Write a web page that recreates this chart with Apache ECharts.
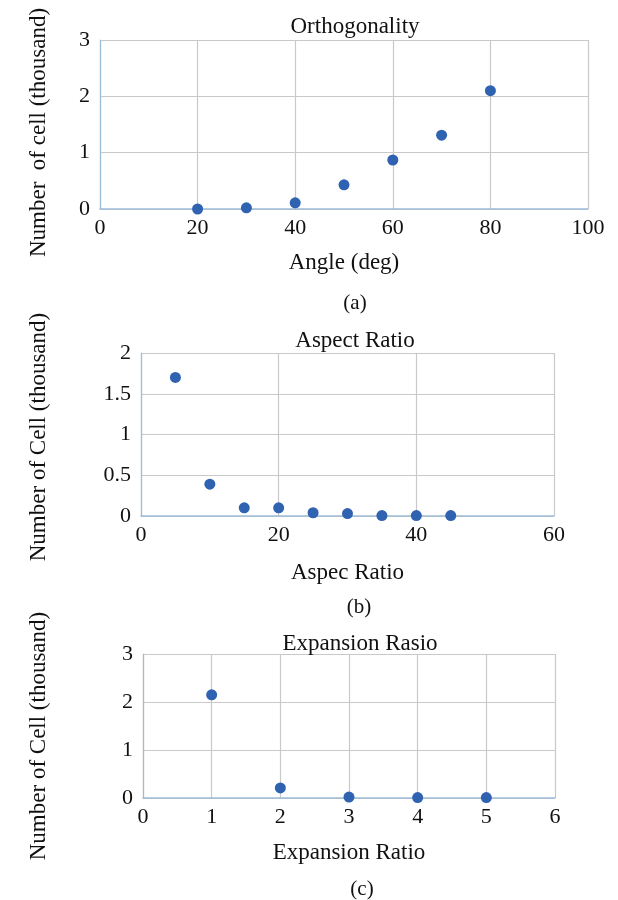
<!DOCTYPE html>
<html>
<head>
<meta charset="utf-8">
<script src="https://cdn.jsdelivr.net/npm/echarts@6/dist/echarts.min.js"></script>
<style>
  html, body { margin: 0; padding: 0; background: #fff; }
  #main { width: 618px; height: 900px; }
</style>
</head>
<body>
<div id="main"></div>
<script>
var myChart = echarts.init(document.getElementById('main'));

// (a) Orthogonality
var angleX = [20, 30, 40, 50, 60, 70, 80];
var angleY = [0.0, 0.02, 0.11, 0.43, 0.87, 1.31, 2.1];
// (b) Aspect Ratio
var aspectX = [5, 10, 15, 20, 25, 30, 35, 40, 45];
var aspectY = [1.7, 0.39, 0.1, 0.1, 0.04, 0.03, 0.005, 0.005, 0.005];
// (c) Expansion Ratio
var expX = [1, 2, 3, 4, 5];
var expY = [2.15, 0.21, 0.02, 0.01, 0.01];

var titles = ['Orthogonality', 'Aspect Ratio', 'Expansion Rasio'];
var xNames = ['Angle (deg)', 'Aspec Ratio', 'Expansion Ratio'];
var yNames = ['Number  of cell (thousand)', 'Number of Cell (thousand)', 'Number of Cell (thousand)'];
var captions = ['(a)', '(b)', '(c)'];

var font = 'Liberation Serif';
var dotColor = '#2f62b0';
var gridColor = '#c9c9c9';
var axisColor = '#9dbcd8';

var pair = (xs, ys) => xs.map((x, i) => [x, ys[i]]);

// v6 shrinks grids to keep labels inside; turn that off
var grids = [
    {left: 100, right: 30, top: 40, height: 169, outerBoundsMode: 'none'},
    {left: 141, right: 64, top: 353, height: 163, outerBoundsMode: 'none'},
    {left: 143, right: 63, top: 654, height: 144, outerBoundsMode: 'none'}
];

var xRanges = [[0, 100, 20], [0, 60, 20], [0, 6, 1]];
var yRanges = [[0, 3, 1], [0, 2, 0.5], [0, 3, 1]];

var titlePos = [
    {x: 350, y: 10},
    {x: 350, y: 324},
    {x: 355, y: 627}
];
var captionPos = [
    {x: 350, y: 288},
    {x: 354, y: 592},
    {x: 357, y: 874}
];

var xAxes = xRanges.map((r, i) => ({
    type: 'value', gridIndex: i, min: r[0], max: r[1], interval: r[2],
    name: xNames[i], nameLocation: 'middle', nameGap: [42, 45, 43][i],
    nameTextStyle: {fontFamily: font, fontSize: 23, color: '#111'},
    axisLine: {show: true, onZero: false, lineStyle: {color: axisColor, width: 1.5}},
    axisTick: {show: false},
    axisLabel: {fontFamily: font, fontSize: 22, color: '#111', margin: 8},
    splitLine: {show: true, lineStyle: {color: gridColor, width: 1.2}}
}));

// right padding pushes the rotated name down a little, as in the picture
var yNameShift = [16, 5, 20];

var yAxes = yRanges.map((r, i) => ({
    type: 'value', gridIndex: i, min: r[0], max: r[1], interval: r[2],
    name: yNames[i], nameLocation: 'middle', nameRotate: 90,
    nameGap: [50, 91, 93][i],
    nameTextStyle: {fontFamily: font, fontSize: 23, color: '#111', padding: [0, yNameShift[i], 0, 0]},
    axisLine: {show: true, lineStyle: {color: axisColor, width: 1.2}},
    axisTick: {show: false},
    axisLabel: {fontFamily: font, fontSize: 22, color: '#111', margin: 10},
    splitLine: {show: true, lineStyle: {color: gridColor, width: 1.2}}
}));

var option = {
    backgroundColor: '#fff',
    animation: false,
    title: titles.map((t, i) => ({
        text: t, left: titlePos[i].x, top: titlePos[i].y, textAlign: 'center',
        textStyle: {fontFamily: font, fontSize: 23, fontWeight: 'normal', color: '#111'}
    })).concat(captions.map((t, i) => ({
        text: t, left: captionPos[i].x, top: captionPos[i].y, textAlign: 'center',
        textStyle: {fontFamily: font, fontSize: 21, fontWeight: 'normal', color: '#111'}
    }))),
    grid: grids,
    xAxis: xAxes,
    yAxis: yAxes,
    series: [
        {type: 'scatter', xAxisIndex: 0, yAxisIndex: 0, data: pair(angleX, angleY)},
        {type: 'scatter', xAxisIndex: 1, yAxisIndex: 1, data: pair(aspectX, aspectY)},
        {type: 'scatter', xAxisIndex: 2, yAxisIndex: 2, data: pair(expX, expY)}
    ].map(s => Object.assign(s, {
        symbolSize: 11,
        itemStyle: {color: dotColor, opacity: 1},
        clip: false
    }))
};

myChart.setOption(option);
</script>
</body>
</html>
